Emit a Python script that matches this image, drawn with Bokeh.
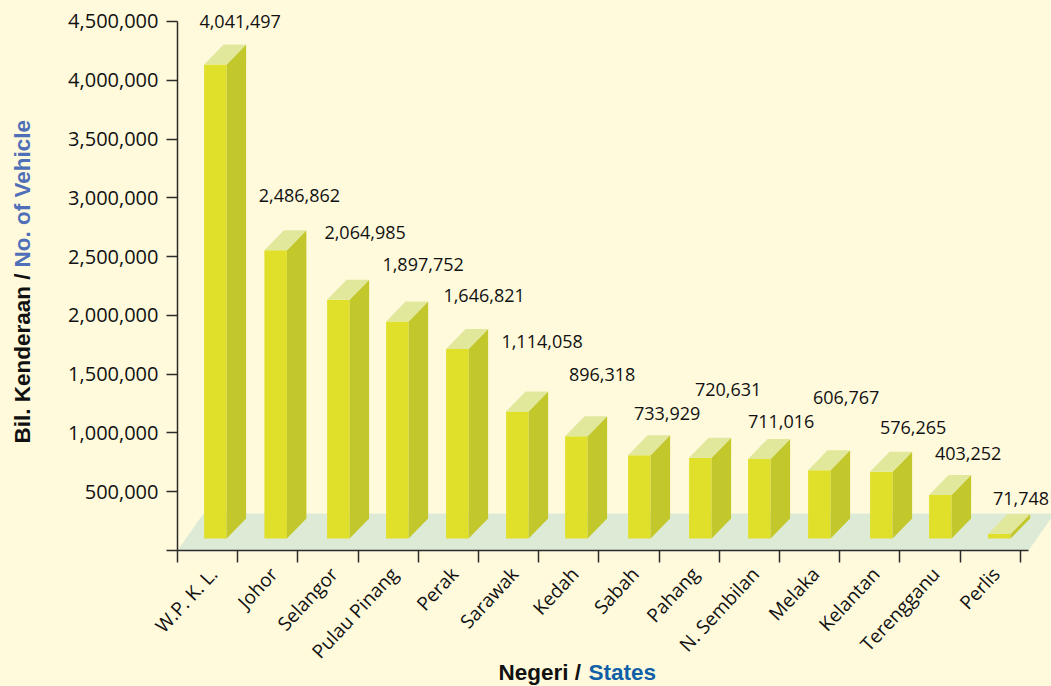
from math import pi
from bokeh.embed import file_html
from bokeh.resources import INLINE
from bokeh.plotting import figure
from bokeh.models import ColumnDataSource, FixedTicker, Label
from bokeh.core.properties import value

categories = ["W.P. K. L.", "Johor", "Selangor", "Pulau Pinang", "Perak", "Sarawak", "Kedah",
              "Sabah", "Pahang", "N. Sembilan", "Melaka", "Kelantan", "Terengganu", "Perlis"]
vehicles = [4041497, 2486862, 2064985, 1897752, 1646821, 1114058, 896318,
            733929, 720631, 711016, 606767, 576265, 403252, 71748]
y_ticks = [0, 500000, 1000000, 1500000, 2000000, 2500000, 3000000, 3500000, 4000000, 4500000]

# hand placement of the artwork, in pixels
bar_nudge = [0, 0, 2.4, 1.1, 0.8, 0.5, -0.8, 1.9, 2.6, 1.3, 1, 2.7, 1.4, 0.1]
top_nudge = [3, 0, 0, -2, 0, 0, 1, 1, 0, 0, 1, 3, 0, 0]
label_dx = [36, 35, 38, 37, 38, 36, 37, 39, 39, 33, 38, 43, 39, 33]
label_top_gap = [43, 55, 67, 57, 53, 70, 62, 42, 68, 37, 73, 44, 42, 36]

W, H = 1051, 686
LEFT, BOTTOM = 177, 550
PX_X = 60.2
PX_Y = 58.78 / 500000
BG = "#FFFADC"
FRONT, SIDE, TOP, FLOOR = "#E0E02A", "#C2C72B", "#E1E89C", "#DDEBD6"
AXIS = "#2B2B2B"
INK = "#111111"
FONT = "Open Sans"
BOLD = "Liberation Sans"

dx = lambda px: px / PX_X
dy = lambda px: px / PX_Y
X = lambda px: (px - LEFT) / PX_X
Y = lambda px: (BOTTOM - px) / PX_Y

p = figure(width=W, height=H, output_backend="svg", toolbar_location=None,
           x_range=(0, X(W)), y_range=(0, Y(0)),
           min_border_left=LEFT, min_border_right=0, min_border_top=0,
           min_border_bottom=H - BOTTOM, background_fill_color=BG, border_fill_color=BG,
           outline_line_color=None)
p.grid.visible = False

# floor
p.patch([0, dx(26), X(1054), X(1028)], [0, dy(37), dy(37), 0], color=FLOOR, line_color=None)

# bars
bar_w, depth_x, depth_y = dx(22.5), dx(19.5), dy(20)
base = dy(12)
shift = dy(8)
lefts = [X(203.6 + 60.3 * i + bar_nudge[i]) for i in range(len(vehicles))]
rights = [l + bar_w for l in lefts]
tops = [v + shift + dy(n) for v, n in zip(vehicles, top_nudge)]
p.quad(left=lefts, right=rights, bottom=base, top=tops, color=FRONT, line_color=None)
p.patches([[r, r + depth_x, r + depth_x, r] for r in rights],
          [[base, base + depth_y, t + depth_y, t] for t in tops],
          color=SIDE, line_color=None)
p.patches([[l, r, r + depth_x, l + depth_x] for l, r in zip(lefts, rights)],
          [[t, t, t + depth_y, t + depth_y] for t in tops],
          color=TOP, line_color=None)

# value labels
src = ColumnDataSource(dict(
    x=[r + dx(d) for r, d in zip(lefts, label_dx)],
    y=[t + dy(g) for t, g in zip(tops, label_top_gap)],
    t=[f"{v:,}" for v in vehicles],
))
p.text("x", "y", text="t", source=src, text_align="center", text_baseline="middle",
       text_font=value(FONT), text_font_size="18px", text_color=INK)

# axes
SHIFT = 0.6
cat_ticks = [round(i + SHIFT, 3) for i in range(len(categories))]
xa = p.xaxis[0]
xa.ticker = FixedTicker(ticks=cat_ticks, minor_ticks=list(range(len(categories) + 1)))
xa.major_label_overrides = dict(zip(cat_ticks, categories))
xa.major_label_orientation = 0.82
xa.major_label_text_font = FONT
xa.major_label_text_font_size = "19px"
xa.major_label_text_color = INK
xa.major_label_standoff = 8
xa.major_tick_in = 0
xa.major_tick_out = 0
xa.minor_tick_in = 0
xa.minor_tick_out = 12
xa.minor_tick_line_color = AXIS
xa.minor_tick_line_width = 1.5
xa.axis_line_color = AXIS
xa.axis_line_width = 1.5
xa.bounds = (X(167), X(1028))

ya = p.yaxis[0]
ya.ticker = FixedTicker(ticks=y_ticks)
ya.major_label_overrides = {t: ("" if t == 0 else f"{t:,}") for t in y_ticks}
ya.major_label_text_font = FONT
ya.major_label_text_font_size = "20px"
ya.major_label_text_color = INK
ya.major_label_standoff = 8
ya.major_tick_in = 0
ya.major_tick_out = 11
ya.major_tick_line_color = AXIS
ya.major_tick_line_width = 1.5
ya.axis_line_color = AXIS
ya.axis_line_width = 1.5
ya.bounds = (0, y_ticks[-1])

# axis titles: a transparent figure over the whole page, since the main frame clips annotations
over = figure(width=W, height=H, output_backend="svg", toolbar_location=None,
              x_range=(0, W), y_range=(H, 0), x_axis_location=None, y_axis_location=None,
              min_border=0, background_fill_color=None, border_fill_color=None,
              outline_line_color=None)
over.grid.visible = False
over.styles = {"position": "absolute", "left": "0", "top": "0", "pointer-events": "none"}

def title(text, px, py, color, angle=0):
    over.add_layout(Label(x=px, y=py, text=text, text_color=color, angle=angle,
                          text_font=BOLD, text_font_style="bold", text_font_size="22.5px",
                          text_align="left", text_baseline="middle"))

title("Bil. Kenderaan /", 22, 443, INK, pi / 2)
title("No. of Vehicle", 22, 267, "#4F6FB8", pi / 2)
title("Negeri /", 498, 672, INK)
title("States", 588, 672, "#1060A8")

html = file_html((p, over), INLINE)
html = html.replace("</head>", f"<style>html,body{{margin:0;padding:0;background:{BG};overflow:hidden}}</style></head>", 1)
open("out.html", "w").write(html)
